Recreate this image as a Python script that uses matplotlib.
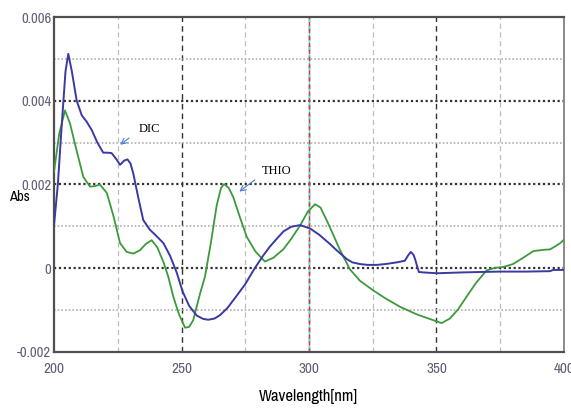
import matplotlib
matplotlib.use("Agg")
import matplotlib.pyplot as plt

# DIC spectrum (blue)
dic_wl = [200, 201.5, 203, 204.5, 205.6, 207, 208.9, 210.9, 212.8, 214.8, 217, 219.3,
          221, 222.6, 224.5, 225.9, 227.5, 228.8, 230, 231.1, 233, 235, 237.6, 240,
          242.9, 245.5, 248.1, 250.4, 253, 256, 258.5, 260.5, 263, 265.1, 268, 271.6,
          275, 278.5, 282, 284.7, 287.3, 290, 293, 296.5, 300.4, 304, 308.2, 311,
          314.8, 317, 320, 323, 326.5, 330, 334.4, 337.6, 338.8, 339.9, 341, 341.6,
          342.4, 343.1, 345, 350.1, 355, 360, 367, 375, 385, 394.5, 395.8, 400]
dic_abs = [0.00103, 0.0020, 0.0034, 0.0047, 0.00512, 0.0047, 0.0040, 0.00365, 0.0035,
           0.0033, 0.0030, 0.00276, 0.00276, 0.00275, 0.0026, 0.00247, 0.00257, 0.0026,
           0.0025, 0.00226, 0.0017, 0.00115, 0.00092, 0.00078, 0.0006, 0.0003, -0.0001,
           -0.00055, -0.0009, -0.00113, -0.00121, -0.00123, -0.0012, -0.00112, -0.00095,
           -0.00066, -0.00038, -0.00002, 0.0003, 0.00052, 0.0007, 0.00088, 0.00099,
           0.00103, 0.00095, 0.0008, 0.00058, 0.00042, 0.00022, 0.00014, 0.0001,
           0.00008, 0.00008, 0.0001, 0.00014, 0.00018, 0.0003, 0.00039, 0.00032,
           0.00022, 0.00005, -0.00009, -0.0001, -0.00012, -0.00011, -0.0001, -0.00009,
           -0.00008, -0.00008, -0.00007, -0.00004, -0.00004]

# THIO spectrum (green)
thio_wl = [200, 202, 204.3, 206.3, 208.9, 211.5, 214.1, 216, 218, 220.7, 223.3, 225.9,
           228.5, 231.1, 233.7, 236, 238.3, 240.5, 242.9, 244.8, 246.8, 249, 251.4, 253,
           254.6, 257.3, 259.2, 261.5, 263.8, 265.5, 266.7, 268.5, 270.3, 273, 275.6,
           279, 282.7, 286, 289.9, 293, 296.5, 299.5, 302.4, 304.5, 306.9, 309.5, 312.2,
           316.1, 320, 325.2, 330, 335.7, 342.2, 348.7, 352, 355.3, 358.5, 361.8, 365.5,
           369.7, 373, 376.2, 380, 384, 388, 392, 394.5, 396.5, 398.5, 400]
thio_abs = [0.0023, 0.0032, 0.00377, 0.00345, 0.0028, 0.00218, 0.00195, 0.00196, 0.002,
            0.0018, 0.00125, 0.0006, 0.00039, 0.00035, 0.00043, 0.00058, 0.00067, 0.0005,
            0.00015, -0.0002, -0.00068, -0.0011, -0.00142, -0.0014, -0.00124, -0.0006,
            -0.0002, 0.0006, 0.0015, 0.00192, 0.00201, 0.00192, 0.0017, 0.0012, 0.00075,
            0.0004, 0.00016, 0.00025, 0.00045, 0.0007, 0.00102, 0.00135, 0.00153,
            0.00145, 0.00115, 0.0008, 0.00043, -0.00003, -0.0003, -0.00053, -0.00072,
            -0.00092, -0.0011, -0.00124, -0.00131, -0.0012, -0.00098, -0.00068, -0.00035,
            -0.00005, 0.00001, 0.00003, 0.0001, 0.00025, 0.00041, 0.00044, 0.00045,
            0.00052, 0.0006, 0.00068]

x_ticks = [200, 250, 300, 350, 400]
y_ticks = [-0.002, 0, 0.002, 0.004, 0.006]
y_ticklabels = ["-0.002", "0", "0.002", "0.004", "0.006"]

BLUE = "#3a3aa2"
GREEN = "#3c9a3c"
TICK_COLOR = "#5f5f78"
NARROW = ["Archivo Narrow", "Roboto Condensed", "DejaVu Sans"]

fig = plt.figure(figsize=(5.71, 4.09), dpi=100)
ax = fig.add_axes([0.0946, 0.1394, 0.8931, 0.819])
ax.set_xlim(200, 400)
ax.set_ylim(-0.002, 0.006)

# grid: dark dashed at major x, light dashed at minor x
for xv in [250, 300, 350]:
    ax.axvline(xv, color="#333333", lw=1.0, ls=(0, (4, 3)), zorder=1)
for xv in [225, 275, 325, 375]:
    ax.axvline(xv, color="#bdbdbd", lw=0.9, ls=(0, (4, 3)), zorder=1)
for yv in [0, 0.002, 0.004]:
    ax.axhline(yv, color="#333333", lw=1.6, ls=(0, (1, 1.2)), zorder=1)
for yv in [-0.001, 0.001, 0.003, 0.005]:
    ax.axhline(yv, color="#b0b0b0", lw=1.2, ls=(0, (1, 1.2)), zorder=1)

# cursor line at 300 nm
ax.axvline(300, color="#3ff0f0", lw=1.0, zorder=2)
ax.axvline(300, color="#ee3030", lw=1.0, ls=(0, (3, 2)), zorder=2)

ax.plot(thio_wl, thio_abs, color=GREEN, lw=1.3, zorder=3)
ax.plot(dic_wl, dic_abs, color=BLUE, lw=1.4, zorder=4)

# labels with arrows
ax.annotate("", xy=(225.1, 0.00291), xytext=(230.3, 0.00315),
            arrowprops=dict(arrowstyle="->", color="#4a7fd0", lw=0.8))
ax.text(233.2, 0.00333, "DIC", fontsize=9, family="Liberation Serif", va="center", ha="left")
ax.annotate("", xy=(271.8, 0.00179), xytext=(279.6, 0.00215),
            arrowprops=dict(arrowstyle="->", color="#4a7fd0", lw=0.8))
ax.text(281.6, 0.00232, "THIO", fontsize=9, family="Liberation Serif", va="center", ha="left")

ax.set_xticks(x_ticks)
ax.set_xticklabels([str(v) for v in x_ticks], family=NARROW, fontsize=11, color=TICK_COLOR)
ax.set_yticks(y_ticks)
ax.set_yticklabels(y_ticklabels, family=NARROW, fontsize=10.5, color=TICK_COLOR)
ax.tick_params(length=0, pad=2)
ax.tick_params(axis="x", pad=7)

for side in ["left", "bottom", "top"]:
    ax.spines[side].set_color("#505050")
    ax.spines[side].set_linewidth(1.6)
ax.spines["right"].set_color("#8a8a8a")
ax.spines["right"].set_linewidth(1.4)

fig.text(9 / 571, 1 - 197 / 409, "Abs", family=NARROW, fontsize=10.5, va="center", ha="left")
fig.text(308 / 571, 1 - 396 / 409, "Wavelength[nm]", family=NARROW, fontsize=12,
         va="center", ha="center")

fig.savefig("out.png", dpi=100)
